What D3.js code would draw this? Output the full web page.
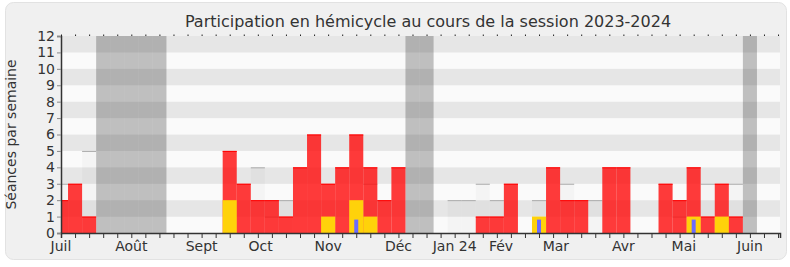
<!DOCTYPE html>
<meta charset="utf-8">
<html>
<head>
<style>
    body { margin: 0; background: #fff; }
    text { font-family: "DejaVu Sans", sans-serif; fill: #333; }
</style>
<script src="https://cdn.jsdelivr.net/npm/d3@7"></script>
</head>
<body>
<svg width="790" height="267"></svg>
<script>

// one value per week, week 0 = first week of July 2023
var presences     = [2,3,1,0,0,0,0,0,0,0,0,0,5,3,2,2,1,4,6,3,4,6,4,2,4,0,0,0,0,0,1,1,3,0,0,4,2,2,0,4,4,0,0,3,2,4,1,3,1,0,0,0];
var interventions = [0,0,0,0,0,0,0,0,0,0,0,0,2,0,0,0,0,0,0,1,0,2,1,0,0,0,0,0,0,0,0,0,0,0,1,0,0,0,0,0,0,0,0,0,0,1,0,1,0,0,0,0];
var questions     = [0,0,0,0,0,0,0,0,0,0,0,0,0,0,0,0,0,0,0,0,0,1,0,0,0,0,0,0,0,0,0,0,0,0,1,0,0,0,0,0,0,0,0,0,0,1,0,0,0,0,0,0];
var mediane       = [3,0,5,0,0,0,0,0,0,0,0,0,0,0,4,1,2,0,0,0,0,0,3,0,0,0,0,0,2,2,3,2,0,0,2,0,3,0,2,0,0,0,0,0,1,0,3,0,3,0,0,0];
var vacances      = [3,4,5,6,7,25,26,49];

var monthLabels = ["Juil","Août","Sept","Oct","Nov","Déc","Jan 24","Fév","Mar","Avr","Mai","Juin"];
var monthWeeks  = [0, 5, 10, 14.2, 19, 24, 28, 31.3, 35.2, 40, 44.3, 49];

var svg = d3.select("svg"),
    width = +svg.attr("width"),
    height = +svg.attr("height"),
    margin = {top: 36, right: 10, bottom: 34, left: 61};

var x = d3.scaleLinear()
    .domain([0, 51.14])
    .range([margin.left, width - margin.right]);

var y = d3.scaleLinear()
    .domain([0, 12])
    .range([height - margin.bottom, margin.top]);

// panel
svg.append("rect")
    .attr("x", 5.5).attr("y", 2.5)
    .attr("width", 781).attr("height", 257)
    .attr("rx", 8)
    .attr("fill", "#f0f0f0")
    .attr("stroke", "#e2e2e2");

svg.append("text")
    .attr("x", 428).attr("y", 27)
    .attr("text-anchor", "middle")
    .attr("font-size", 16)
    .text("Participation en hémicycle au cours de la session 2023-2024");

svg.append("clipPath").attr("id", "plot")
  .append("rect")
    .attr("x", x(0)).attr("y", y(12))
    .attr("width", x(51.14) - x(0)).attr("height", y(0) - y(12));

var plot = svg.append("g").attr("clip-path", "url(#plot)");

// horizontal stripes
plot.selectAll(".stripe")
    .data(d3.range(12))
    .enter().append("rect")
    .attr("x", x(0))
    .attr("y", function(d) { return y(d + 1); })
    .attr("width", x(51.14) - x(0))
    .attr("height", function(d) { return y(d) - y(d + 1); })
    .attr("fill", function(d) { return d % 2 ? "#e6e6e6" : "#fafafa"; });

// vacation weeks
plot.selectAll(".vac")
    .data(vacances)
    .enter().append("rect")
    .attr("x", function(d) { return x(d - 0.5); })
    .attr("y", y(12))
    .attr("width", x(1) - x(0))
    .attr("height", y(0) - y(12))
    .attr("fill", "rgba(40,40,40,0.28)");

var barW = x(1) - x(0);

// median of deputies
var med = plot.selectAll(".med")
    .data(mediane.map(function(v, i) { return {i: i, v: v}; }).filter(function(d) { return d.v > 0; }))
    .enter().append("g");
med.append("rect")
    .attr("x", function(d) { return x(d.i - 0.5); })
    .attr("y", function(d) { return y(d.v); })
    .attr("width", barW)
    .attr("height", function(d) { return y(0) - y(d.v); })
    .attr("fill", "rgba(0,0,0,0.025)");
med.append("line")
    .attr("x1", function(d) { return x(d.i - 0.5); })
    .attr("x2", function(d) { return x(d.i + 0.5); })
    .attr("y1", function(d) { return y(d.v) + 0.5; })
    .attr("y2", function(d) { return y(d.v) + 0.5; })
    .attr("stroke", "#aaa");

// presences
var pres = plot.selectAll(".pres")
    .data(presences.map(function(v, i) { return {i: i, v: v}; }).filter(function(d) { return d.v > 0; }))
    .enter().append("g");
pres.append("rect")
    .attr("x", function(d) { return x(d.i - 0.5); })
    .attr("y", function(d) { return y(d.v); })
    .attr("width", barW)
    .attr("height", function(d) { return y(0) - y(d.v); })
    .attr("fill", "rgba(255,10,10,0.8)");
pres.append("line")
    .attr("x1", function(d) { return x(d.i - 0.5); })
    .attr("x2", function(d) { return x(d.i + 0.5); })
    .attr("y1", function(d) { return y(d.v) + 0.5; })
    .attr("y2", function(d) { return y(d.v) + 0.5; })
    .attr("stroke", "#ff0000");

// interventions
plot.selectAll(".interv")
    .data(interventions.map(function(v, i) { return {i: i, v: v}; }).filter(function(d) { return d.v > 0; }))
    .enter().append("rect")
    .attr("x", function(d) { return x(d.i - 0.5); })
    .attr("y", function(d) { return y(d.v); })
    .attr("width", barW)
    .attr("height", function(d) { return y(0) - y(d.v); })
    .attr("fill", "#ffd20a");

// oral questions
plot.selectAll(".quest")
    .data(questions.map(function(v, i) { return {i: i, v: v}; }).filter(function(d) { return d.v > 0; }))
    .enter().append("rect")
    .attr("x", function(d) { return x(d.i) - 2; })
    .attr("y", function(d) { return y(d.v) + 3; })
    .attr("width", 4)
    .attr("height", function(d) { return y(0) - y(d.v) - 3; })
    .attr("fill", "#6b6bff");

// axes
svg.append("g")
    .attr("transform", "translate(0," + y(0) + ")")
    .call(d3.axisBottom(x).tickValues(d3.range(52)).tickSize(5).tickFormat(""))
    .call(function(g) {
        g.select(".domain").attr("stroke", "#333").attr("stroke-width", 1.5);
        g.selectAll(".tick line").attr("stroke", "#333");
    });

svg.append("g")
    .attr("transform", "translate(0," + y(12) + ")")
    .call(d3.axisTop(x).tickValues(d3.range(52)).tickSize(1.5).tickFormat(""))
    .call(function(g) {
        g.select(".domain").remove();
        g.selectAll(".tick line").attr("stroke", "#222");
    });

svg.selectAll(".month")
    .data(monthLabels)
    .enter().append("text")
    .attr("x", function(d, i) { return x(monthWeeks[i]); })
    .attr("y", 251)
    .attr("text-anchor", "middle")
    .attr("font-size", 14)
    .text(function(d) { return d; });

svg.append("g")
    .attr("transform", "translate(" + x(0) + ",0)")
    .call(d3.axisLeft(y).ticks(12).tickSize(4).tickPadding(2))
    .call(function(g) {
        g.select(".domain").attr("stroke", "#333").attr("stroke-width", 1.5);
        g.selectAll(".tick line").attr("stroke", "#888");
        g.selectAll(".tick text").attr("font-size", 14).attr("font-family", "DejaVu Sans").attr("fill", "#333");
    });

svg.append("text")
    .attr("transform", "translate(15.5," + (y(6)) + ") rotate(-90)")
    .attr("text-anchor", "middle")
    .attr("font-size", 14)
    .text("Séances par semaine");

</script>
</body>
</html>
